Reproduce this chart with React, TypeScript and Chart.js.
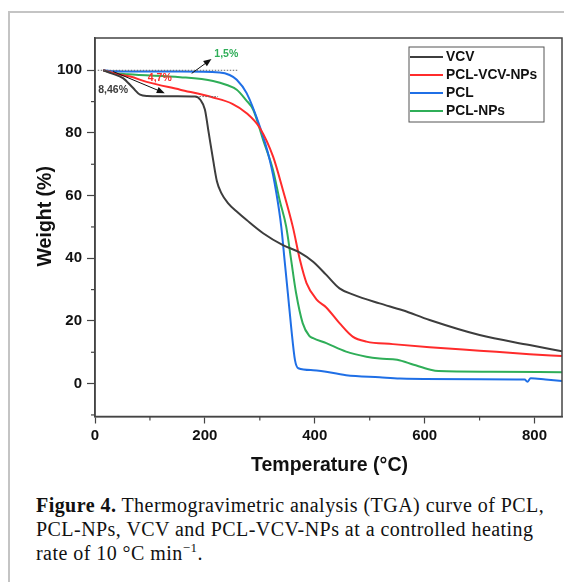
import React, { useEffect, useRef } from "react";
import { Chart, registerables } from "chart.js";

Chart.register(...registerables);

// ---------- data (temperature °C, weight %) ----------
const vcvTemp = [15, 30, 51, 69, 82, 95, 150, 182, 192, 200, 207, 215, 222, 230, 242, 260, 276, 306, 342, 373, 397, 421, 445, 470, 518, 560, 609, 700, 791, 850];
const vcvWeight = [100, 99, 97.5, 94.4, 92.2, 91.8, 91.7, 91.6, 90.5, 87.5, 80, 71.4, 64.5, 60.8, 57.6, 54.6, 52.2, 48, 44.2, 41.8, 38.9, 34.7, 30.4, 28.4, 25.6, 23.4, 20.3, 15.5, 12.3, 10.3];

const redTemp = [15, 40, 64, 94, 155, 215, 250, 276, 300, 324, 342, 360, 373, 385, 403, 421, 445, 469, 494, 542, 609, 700, 791, 850];
const redWeight = [100, 98.8, 98, 96.3, 93.8, 91.3, 89.3, 86.3, 81.6, 72.5, 61.8, 50.1, 39.5, 32.1, 26.9, 24.3, 19.3, 15, 13.4, 12.6, 11.6, 10.5, 9.4, 8.8];

const blueTemp = [15, 40, 100, 155, 227, 245, 258, 276, 300, 318, 330, 339, 345, 351, 357, 364, 370, 397, 457, 518, 555, 700, 782, 787, 793, 820, 850];
const blueWeight = [100, 99.7, 99.6, 99.6, 99.3, 98.5, 97, 92.7, 82, 71.4, 60.9, 50.1, 39.5, 28.9, 18.1, 7.5, 4.9, 4.3, 2.7, 2.0, 1.6, 1.4, 1.3, 0.6, 1.7, 1.3, 0.8];

const greenTemp = [15, 30, 60, 155, 215, 240, 258, 275, 288, 306, 324, 336, 348, 357, 366, 378, 390, 397, 421, 457, 494, 518, 550, 580, 609, 625, 720, 850];
const greenWeight = [100, 99.3, 98.7, 97.8, 96.6, 95.3, 93.8, 90.5, 87.4, 77.8, 68.2, 58.6, 50.1, 39.5, 28.9, 19.3, 15.2, 14.5, 12.9, 10.2, 8.6, 8.0, 7.6, 6.0, 4.5, 4.0, 3.8, 3.6];

const seriesNames = ["VCV", "PCL-VCV-NPs", "PCL", "PCL-NPs"];
const seriesColors = ["#3d3d3d", "#ff2b2b", "#1f6fe6", "#2fae58"];

const xMajorTicks = [0, 200, 400, 600, 800];
const xMinorTicks = [100, 300, 500, 700];
const yMajorTicks = [0, 20, 40, 60, 80, 100];
const yMinorTicks = [-10, 10, 30, 50, 70, 90];

// annotations (data units)
const noteTexts = ["1,5%", "4,7%", "8,46%"];
const noteColors = ["#2fae58", "#ff2b2b", "#3d3d3d"];
const noteTemp = [239, 118, 33];
const noteWeight = [105.3, 97.5, 93.8];

const arrowFromTemp = [176, 33];
const arrowFromWeight = [99, 99.6];
const arrowToTemp = [212, 127];
const arrowToWeight = [103.6, 92.7];

const refLineWeight = [100, 91.6];
const refLineFrom = [5, 190];
const refLineTo = [260, 224];

const FONT = '"Liberation Sans", Arial, sans-serif';

function toPoints(t: number[], w: number[]) {
  return t.map((x, i) => ({ x, y: w[i] }));
}

const decorPlugin = {
  id: "decor",
  afterDatasetsDraw(chart: any) {
    const { ctx } = chart;
    const xs = chart.scales.x;
    const ys = chart.scales.y;
    ctx.save();
    // dotted reference lines
    ctx.strokeStyle = "#666";
    ctx.lineWidth = 1;
    ctx.setLineDash([1.5, 1.5]);
    refLineWeight.forEach((w, i) => {
      ctx.beginPath();
      ctx.moveTo(xs.getPixelForValue(refLineFrom[i]), ys.getPixelForValue(w));
      ctx.lineTo(xs.getPixelForValue(refLineTo[i]), ys.getPixelForValue(w));
      ctx.stroke();
    });
    ctx.setLineDash([]);
    // arrows
    ctx.strokeStyle = "#111";
    ctx.fillStyle = "#111";
    arrowFromTemp.forEach((t, i) => {
      const x1 = xs.getPixelForValue(t);
      const y1 = ys.getPixelForValue(arrowFromWeight[i]);
      const x2 = xs.getPixelForValue(arrowToTemp[i]);
      const y2 = ys.getPixelForValue(arrowToWeight[i]);
      const ang = Math.atan2(y2 - y1, x2 - x1);
      const hl = 8;
      const hw = 3.2;
      ctx.lineWidth = 1;
      ctx.beginPath();
      ctx.moveTo(x1, y1);
      ctx.lineTo(x2 - Math.cos(ang) * hl * 0.8, y2 - Math.sin(ang) * hl * 0.8);
      ctx.stroke();
      ctx.beginPath();
      ctx.moveTo(x2, y2);
      ctx.lineTo(x2 - Math.cos(ang) * hl - Math.sin(ang) * hw, y2 - Math.sin(ang) * hl + Math.cos(ang) * hw);
      ctx.lineTo(x2 - Math.cos(ang) * hl + Math.sin(ang) * hw, y2 - Math.sin(ang) * hl - Math.cos(ang) * hw);
      ctx.closePath();
      ctx.fill();
    });
    // notes
    ctx.font = `bold 10.5px ${FONT}`;
    ctx.textAlign = "center";
    ctx.textBaseline = "middle";
    noteTexts.forEach((txt, i) => {
      ctx.fillStyle = noteColors[i];
      ctx.fillText(txt, xs.getPixelForValue(noteTemp[i]), ys.getPixelForValue(noteWeight[i]));
    });
    ctx.restore();
  },
  afterDraw(chart: any) {
    const { ctx, chartArea } = chart;
    const xs = chart.scales.x;
    const ys = chart.scales.y;
    ctx.save();
    // frame
    ctx.strokeStyle = "#444";
    ctx.lineWidth = 1.5;
    ctx.strokeRect(chartArea.left, chartArea.top, chartArea.right - chartArea.left, chartArea.bottom - chartArea.top);
    // minor ticks
    ctx.lineWidth = 1.2;
    xMinorTicks.forEach((v) => {
      const px = xs.getPixelForValue(v);
      ctx.beginPath();
      ctx.moveTo(px, chartArea.bottom);
      ctx.lineTo(px, chartArea.bottom + 4);
      ctx.stroke();
    });
    yMinorTicks.forEach((v) => {
      const py = ys.getPixelForValue(v);
      ctx.beginPath();
      ctx.moveTo(chartArea.left, py);
      ctx.lineTo(chartArea.left - 4, py);
      ctx.stroke();
    });
    // axis titles
    ctx.fillStyle = "#111";
    ctx.font = `bold 19.5px ${FONT}`;
    ctx.textAlign = "center";
    ctx.textBaseline = "alphabetic";
    ctx.fillText("Temperature (°C)", (chartArea.left + chartArea.right) / 2 + 1, chartArea.bottom + 54);
    ctx.save();
    ctx.translate(chartArea.left - 44, (chartArea.top + chartArea.bottom) / 2 - 11);
    ctx.rotate(-Math.PI / 2);
    ctx.fillText("Weight (%)", 0, 0);
    ctx.restore();
    // legend
    const lx = 409;
    const ly = 47;
    ctx.strokeStyle = "#555";
    ctx.lineWidth = 1;
    ctx.strokeRect(lx, ly, 135, 75);
    ctx.font = `bold 13.8px ${FONT}`;
    ctx.textAlign = "left";
    ctx.textBaseline = "middle";
    const rows = [57, 75, 93, 111];
    seriesNames.forEach((name, i) => {
      ctx.strokeStyle = seriesColors[i];
      ctx.lineWidth = 2;
      ctx.beginPath();
      ctx.moveTo(lx + 1, rows[i]);
      ctx.lineTo(lx + 34, rows[i]);
      ctx.stroke();
      ctx.fillStyle = "#111";
      ctx.fillText(name, lx + 37, rows[i] + 0.5);
    });
    ctx.restore();
  },
};

export default function App() {
  const canvasRef = useRef<HTMLCanvasElement | null>(null);

  useEffect(() => {
    if (!canvasRef.current) return;
    const seriesData = [
      toPoints(vcvTemp, vcvWeight),
      toPoints(redTemp, redWeight),
      toPoints(blueTemp, blueWeight),
      toPoints(greenTemp, greenWeight),
    ];
    const chart = new Chart(canvasRef.current, {
      type: "line",
      data: {
        datasets: seriesNames.map((name, i) => ({
          label: name,
          data: seriesData[i],
          borderColor: seriesColors[i],
          backgroundColor: seriesColors[i],
          borderWidth: 2,
          pointRadius: 0,
          fill: false,
          cubicInterpolationMode: "monotone" as const,
        })),
      },
      options: {
        animation: false,
        responsive: false,
        devicePixelRatio: 1,
        layout: { padding: { left: 0, right: 2, top: 38, bottom: 0 } },
        plugins: { legend: { display: false }, tooltip: { enabled: false } },
        scales: {
          x: {
            type: "linear",
            min: 0,
            max: 850,
            afterBuildTicks: (axis: any) => {
              axis.ticks = xMajorTicks.map((v) => ({ value: v }));
            },
            afterFit: (axis: any) => {
              axis.height = 63.5;
            },
            grid: { display: true, drawOnChartArea: false, drawTicks: true, tickLength: 7, tickColor: "#444", tickWidth: 1.2 },
            border: { display: true, color: "#444", width: 1.5 },
            ticks: { color: "#111", font: { family: FONT, size: 15, weight: "bold" }, padding: 3, maxRotation: 0 },
          },
          y: {
            type: "linear",
            min: -10.5,
            max: 110.3,
            afterBuildTicks: (axis: any) => {
              axis.ticks = yMajorTicks.map((v) => ({ value: v }));
            },
            afterFit: (axis: any) => {
              axis.width = 95;
            },
            grid: { display: true, drawOnChartArea: false, drawTicks: true, tickLength: 8, tickColor: "#444", tickWidth: 1.2 },
            border: { display: true, color: "#444", width: 1.5 },
            ticks: { color: "#111", font: { family: FONT, size: 15, weight: "bold" }, padding: 5 },
          },
        },
      },
      plugins: [decorPlugin],
    });
    return () => chart.destroy();
  }, []);

  return (
    <div style={{ position: "absolute", left: 0, top: 0, width: 564, height: 582, background: "#fff", overflow: "hidden" }}>
      <div style={{ position: "absolute", left: 8, top: 11, width: 700, height: 700, borderLeft: "2px solid #c4c4c4", borderTop: "2px solid #c4c4c4" }} />
      <canvas ref={canvasRef} width={564} height={480} style={{ position: "absolute", left: 0, top: 0, width: 564, height: 480 }} />
      <div
        style={{
          position: "absolute",
          left: 36,
          top: 493,
          fontFamily: '"Liberation Serif", "Times New Roman", serif',
          fontSize: 20,
          lineHeight: "24px",
          letterSpacing: "0.45px",
          color: "#111",
          whiteSpace: "nowrap",
        }}
      >
        <div>
          <b>Figure 4.</b> Thermogravimetric analysis (TGA) curve of PCL,
        </div>
        <div>PCL-NPs, VCV and PCL-VCV-NPs at a controlled heating</div>
        <div>
          rate of 10 °C min<sup style={{ fontSize: 13, lineHeight: 0 }}>−1</sup>.
        </div>
      </div>
    </div>
  );
}
